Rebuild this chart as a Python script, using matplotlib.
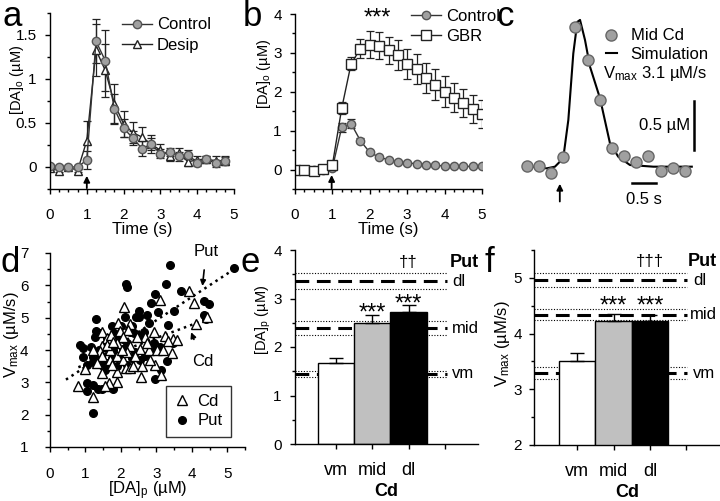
import matplotlib
matplotlib.use('Agg')
import matplotlib.pyplot as plt
from matplotlib.ticker import MultipleLocator
import numpy as np

plt.rcParams['font.family'] = ['Liberation Sans', 'DejaVu Sans']
plt.rcParams['mathtext.default'] = 'regular'
plt.rcParams['font.size'] = 11
plt.rcParams['axes.linewidth'] = 1.0

# ---- panel a: control vs desipramine
t_a = np.arange(20) * 0.25
ctrl_a = [0.01, 0.0, 0.0, 0.0, 0.08, 1.43, 1.21, 0.66, 0.44, 0.33, 0.21, 0.26, 0.15,
          0.17, 0.12, 0.14, 0.05, 0.09, 0.04, 0.07]
ctrl_a_err = [0.02, 0.02, 0.01, 0.02, 0.1, 0.25, 0.35, 0.17, 0.1, 0.08, 0.08, 0.07, 0.05,
              0.05, 0.05, 0.05, 0.04, 0.03, 0.04, 0.04]
desip_a = [-0.01, -0.04, 0.0, -0.04, 0.30, 1.33, 1.10, 0.72, 0.49, 0.39, 0.34, 0.26, 0.19,
           0.13, 0.16, 0.06, 0.08, 0.09, 0.07, 0.07]
desip_a_err = [0.02, 0.02, 0.01, 0.02, 0.22, 0.3, 0.3, 0.22, 0.15, 0.12, 0.12, 0.1, 0.07,
               0.06, 0.06, 0.05, 0.05, 0.04, 0.05, 0.05]

# ---- panel b: control vs GBR
t_b = np.arange(21) * 0.25
ctrl_b = [0.0, 0.0, -0.02, 0.0, 0.04, 1.09, 1.18, 0.74, 0.44, 0.32, 0.25, 0.2, 0.17,
          0.15, 0.13, 0.11, 0.09, 0.08, 0.08, 0.08, 0.08]
ctrl_b_err = [0.02, 0.02, 0.02, 0.02, 0.03, 0.12, 0.12, 0.06, 0.04, 0.03, 0.03, 0.03, 0.03,
              0.02, 0.02, 0.02, 0.02, 0.02, 0.02, 0.02, 0.02]
gbr_b = [0.0, 0.0, -0.03, 0.02, 0.12, 1.58, 2.72, 3.11, 3.21, 3.19, 3.07, 2.95, 2.72,
         2.59, 2.36, 2.18, 2.0, 1.85, 1.71, 1.56, 1.43]
gbr_b_err = [0.02, 0.02, 0.02, 0.02, 0.05, 0.15, 0.17, 0.25, 0.35, 0.35, 0.35, 0.38, 0.38,
             0.38, 0.38, 0.4, 0.4, 0.38, 0.35, 0.35, 0.35]

# ---- panel c: mid Cd record and simulation
t_c = np.arange(14) * 0.25
mid_cd = [0.0, 0.0, -0.074, 0.088, 1.41, 1.076, 0.664, 0.18, 0.10, 0.043, 0.10,
          -0.05, -0.025, -0.054]
sim_t = [0.0, 0.2, 0.41, 0.58, 0.75, 0.855, 0.957, 1.04, 1.095, 1.197, 1.30, 1.505,
         1.71, 1.88, 2.12, 2.6, 3.39]
sim_v = [0.0, -0.013, -0.024, -0.007, 0.078, 0.466, 1.14, 1.46, 1.48, 1.277, 1.006,
         0.686, 0.23, 0.094, 0.01, -0.007, -0.007]

# ---- panel d: Vmax vs [DA]p
put_x = [3.39, 5.18, 2.15, 2.18, 3.27, 2.95, 3.70, 4.33, 4.49, 2.85, 2.51, 3.50, 1.30,
         2.12, 2.42, 2.52, 2.73, 3.06, 4.33, 4.41, 3.34, 2.78, 2.01, 1.74, 1.30, 1.41,
         1.81, 2.26, 2.37, 2.52, 2.66, 1.27, 1.60, 1.93, 0.94, 1.15, 1.55, 0.92, 1.21,
         1.37, 1.79, 2.07, 2.40, 2.97, 3.11, 3.48, 2.92, 1.22, 1.37, 1.49, 1.05, 1.60,
         1.74, 1.98, 2.31, 2.54, 2.68, 3.31, 2.18, 3.13, 2.97, 1.04, 1.21, 1.34, 1.46,
         1.77, 1.04, 1.22, 2.18, 1.69, 1.88, 1.55, 1.98, 2.31, 0.85]
put_y = [6.63, 6.53, 6.04, 5.94, 6.04, 5.74, 5.84, 5.53, 5.43, 5.45, 5.22, 5.22, 4.95,
         5.01, 5.01, 5.01, 5.07, 5.16, 5.07, 4.96, 4.78, 4.85, 4.75, 4.75, 4.60, 4.54,
         4.54, 4.57, 4.52, 4.42, 4.57, 4.40, 4.36, 4.33, 4.05, 4.09, 4.16, 3.78, 3.78,
         4.00, 4.00, 4.02, 3.95, 4.00, 4.10, 4.21, 4.23, 3.64, 3.69, 3.49, 3.54, 3.59,
         3.75, 3.80, 3.75, 3.69, 3.80, 3.67, 3.54, 3.38, 3.09, 2.99, 2.92, 2.79, 2.79,
         2.79, 2.74, 2.06, 4.21, 4.21, 3.49, 3.38, 4.44, 4.73, 4.16]
cd_x = [3.91, 3.11, 4.07, 4.43, 4.12, 2.10, 1.91, 2.26, 1.46, 1.60, 1.72, 1.98, 2.21,
        2.07, 2.92, 2.68, 2.45, 3.25, 3.48, 3.58, 3.34, 1.46, 1.41, 2.26, 2.54, 2.78,
        3.01, 3.20, 3.44, 1.69, 1.88, 2.07, 0.99, 1.46, 1.88, 2.15, 2.26, 2.59, 2.97,
        3.13, 2.56, 1.90, 1.65, 1.55, 0.80, 1.21, 2.17, 1.69, 1.46, 1.88, 2.40, 2.73,
        1.60, 2.02, 1.22, 1.79, 2.35, 2.82, 1.74, 1.32]
cd_y = [5.84, 5.55, 5.45, 5.01, 4.81, 5.32, 4.85, 4.81, 4.57, 4.36, 4.47, 4.60, 4.62,
        4.40, 4.57, 4.40, 4.40, 4.44, 4.35, 4.31, 4.29, 4.11, 3.98, 4.11, 4.04, 4.00,
        4.00, 4.00, 3.92, 4.00, 3.82, 3.69, 3.40, 3.30, 3.33, 3.44, 3.44, 3.51, 3.54,
        3.23, 3.16, 3.02, 2.97, 2.89, 2.89, 2.54, 3.95, 3.69, 3.80, 4.21, 3.80, 4.21,
        4.16, 4.00, 4.00, 4.26, 3.49, 3.69, 3.54, 3.59]
put_fit = (0.72, 2.76)   # slope, intercept
put_fit_range = (0.45, 5.25)
cd_fit = (0.41, 3.14)
cd_fit_range = (0.8, 4.45)

# ---- panels e, f: regional means (Cd bars, Put reference lines)
regions = ['vm', 'mid', 'dl']
dap_cd = [1.66, 2.50, 2.73]
dap_cd_err = [0.11, 0.15, 0.13]
dap_put = [1.45, 2.39, 3.36]
dap_put_err = [0.06, 0.15, 0.16]
vmax_cd = [3.51, 4.22, 4.22]
vmax_cd_err = [0.15, 0.13, 0.12]
vmax_put = [3.29, 4.34, 4.96]
vmax_put_err = [0.11, 0.10, 0.12]

W, H = 720.0, 501.0
fig = plt.figure(figsize=(W / 100, H / 100), dpi=100)


def px_box(x0, y0, x1, y1):
    return [x0 / W, 1 - y1 / H, (x1 - x0) / W, (y1 - y0) / H]


def style(ax, xpad=6.5, ypad=6):
    for s in ['top', 'right']:
        ax.spines[s].set_visible(False)
    ax.tick_params(which='major', direction='out', length=3.5, width=1, labelsize=11)
    ax.tick_params(which='minor', direction='out', length=2.5, width=1)
    ax.tick_params(axis='x', which='major', pad=xpad)
    ax.tick_params(axis='y', which='major', pad=ypad)


def up_arrow(ax, x, y0, y1):
    ax.annotate('', xy=(x, y1), xytext=(x, y0), annotation_clip=False,
                arrowprops=dict(arrowstyle='-|>', color='k', lw=1.3, mutation_scale=9,
                                shrinkA=0, shrinkB=0))


# ================= a
ax = fig.add_axes(px_box(50, 13, 234, 189))
style(ax, xpad=10)
ax.errorbar(t_a, desip_a, yerr=desip_a_err, fmt='none', ecolor='#222', elinewidth=0.9,
            capsize=3, capthick=0.9)
ax.errorbar(t_a, ctrl_a, yerr=ctrl_a_err, fmt='none', ecolor='#222', elinewidth=0.9,
            capsize=3, capthick=0.9)
ax.plot(t_a, desip_a, '-^', color='#222', mfc='white', mec='#222', ms=5.5, lw=1,
        label='Desip')
ax.plot(t_a, ctrl_a, '-o', color='#333', mfc='#a0a0a0', mec='#555', ms=6, lw=1,
        label='Control')
ax.set_xlim(0, 5)
ax.set_ylim(-0.25, 1.75)
ax.set_xticks(range(6))
ax.xaxis.set_minor_locator(MultipleLocator(0.25))
ax.set_yticks([0, 0.5, 1, 1.5])
ax.set_yticklabels(['0', '0.5', '1', '1.5'])
ax.yaxis.set_minor_locator(MultipleLocator(0.25))
ax.set_xlabel('Time (s)', fontsize=12, labelpad=0)
ax.set_ylabel('[DA]$_o$ (µM)', fontsize=10.5)
ax.yaxis.set_label_coords(-0.13, 0.62)
up_arrow(ax, 1, -0.24, -0.1)
h, l = ax.get_legend_handles_labels()
ax.legend(h[::-1], l[::-1], loc='upper left', bbox_to_anchor=(0.39, 0.975), frameon=False,
          fontsize=12, handlelength=1.8, handletextpad=0.3, labelspacing=0.35,
          borderpad=0, borderaxespad=0)

# ================= b
ax = fig.add_axes(px_box(295, 14, 482, 189))
style(ax, xpad=10)
ax.errorbar(t_b, gbr_b, yerr=gbr_b_err, fmt='none', ecolor='#222', elinewidth=0.9,
            capsize=3, capthick=0.9)
ax.errorbar(t_b, ctrl_b, yerr=ctrl_b_err, fmt='none', ecolor='#222', elinewidth=0.9,
            capsize=3, capthick=0.9)
ax.plot(t_b, ctrl_b, '-o', color='#333', mfc='#a0a0a0', mec='#555', ms=6, lw=1,
        label='Control')
ax.plot(t_b, gbr_b, '-s', color='#222', mfc='white', mec='#222', ms=6.5, lw=1,
        label='GBR')
ax.set_xlim(0, 5)
ax.set_ylim(-0.5, 4)
ax.set_xticks(range(6))
ax.xaxis.set_minor_locator(MultipleLocator(0.25))
ax.set_yticks(range(5))
ax.yaxis.set_minor_locator(MultipleLocator(0.5))
ax.set_xlabel('Time (s)', fontsize=12, labelpad=0)
ax.set_ylabel('[DA]$_o$ (µM)', fontsize=10.5)
ax.yaxis.set_label_coords(-0.12, 0.66)
up_arrow(ax, 0.98, -0.48, -0.14)
ax.text(2.2, 3.6, '***', fontsize=17, ha='center', va='bottom')
ax.legend(loc='upper left', bbox_to_anchor=(0.62, 1.03), frameon=False, fontsize=12,
          handlelength=1.8, handletextpad=0.3, labelspacing=0.3, borderpad=0,
          borderaxespad=0)

# ================= c
ax = fig.add_axes(px_box(500, 0, 720, 210))
ax.set_xlim(-0.548, 3.969)
ax.set_ylim(-0.446, 1.682)
ax.axis('off')
ax.plot(sim_t, sim_v, '-', color='k', lw=1.5, label='Simulation', zorder=2)
ax.plot(t_c, mid_cd, 'o', mfc='#a0a0a0', mec='#666', ms=8, label='Mid Cd', zorder=3)
h, l = ax.get_legend_handles_labels()
ax.legend(h[::-1], l[::-1], loc='upper left', bbox_to_anchor=(0.48, 0.865), frameon=False,
          fontsize=12, handlelength=0.7, handletextpad=0.8, labelspacing=0.2,
          borderpad=0, borderaxespad=0)
ax.text(1.57, 0.94, 'V$_{max}$ 3.1 µM/s', fontsize=12, ha='left', va='center')
ax.plot([3.435, 3.435], [0.162, 0.162 + 0.5], color='k', lw=1.8)
ax.text(3.35, 0.41, '0.5 µM', fontsize=12, ha='right', va='center')
ax.plot([2.156, 2.156 + 0.5], [-0.169, -0.169], color='k', lw=1.8)
ax.text(2.4, -0.26, '0.5 s', fontsize=12, ha='center', va='top')
up_arrow(ax, 0.68, -0.36, -0.18)

# ================= d
ax = fig.add_axes(px_box(50, 253, 245, 447))
style(ax, xpad=11, ypad=12)
ax.plot(put_fit_range, [put_fit[0] * x + put_fit[1] for x in put_fit_range], ':',
        color='k', lw=1.8, zorder=1)
ax.plot(cd_fit_range, [cd_fit[0] * x + cd_fit[1] for x in cd_fit_range], ':',
        color='k', lw=1.8, zorder=1)
ax.plot(put_x, put_y, 'o', mfc='k', mec='k', ms=5.5, label='Put', zorder=2)
ax.plot(cd_x, cd_y, '^', mfc='white', mec='k', mew=1, ms=7, label='Cd', zorder=3)
ax.set_xlim(0, 5.5)
ax.set_ylim(1, 7)
ax.set_xticks(range(6))
ax.xaxis.set_minor_locator(MultipleLocator(0.5))
ax.set_yticks(range(1, 8))
ax.yaxis.set_minor_locator(MultipleLocator(0.5))
ax.set_xlabel('[DA]$_p$ (µM)', fontsize=12, labelpad=-1)
ax.set_ylabel('V$_{max}$ (µM/s)', fontsize=12)
ax.yaxis.set_label_coords(-0.15, 0.58)
h, l = ax.get_legend_handles_labels()
leg = ax.legend(h[::-1], l[::-1], loc='lower left', bbox_to_anchor=(0.594, 0.053),
                frameon=True, fancybox=False, edgecolor='k', fontsize=12,
                handlelength=1.0, handletextpad=0.4, labelspacing=0.25, borderpad=0.5,
                borderaxespad=0)
leg.get_frame().set_linewidth(1.0)
ax.annotate('Put', xy=(4.3, 5.98), xytext=(4.05, 7.05), fontsize=12, ha='left',
            va='center', annotation_clip=False,
            arrowprops=dict(arrowstyle='-|>', color='k', lw=1.2, mutation_scale=8,
                            shrinkA=6, shrinkB=0))
ax.annotate('Cd', xy=(3.98, 4.55), xytext=(4.3, 3.65), fontsize=12, ha='center',
            va='center',
            arrowprops=dict(arrowstyle='-|>', color='k', lw=1.2, mutation_scale=8,
                            shrinkA=9, shrinkB=0))


# ================= e, f
def region_panel(box, cd, cd_err, put, put_err, ylim, xlim, xmax_frac, ylabel, ylab_size,
                 ylab_y, dagger, star_y, put_y, lab_x, put_x0, ypad):
    ax = fig.add_axes(px_box(*box))
    style(ax, xpad=9.5, ypad=ypad)
    pos = np.arange(1, 4)
    for v, e in zip(put, put_err):
        ax.axhline(v, xmin=0, xmax=xmax_frac, color='k', lw=2.2, ls=(0, (4.5, 2.5)),
                   zorder=1)
        ax.axhline(v + e, xmin=0, xmax=xmax_frac, color='k', lw=0.8, ls=(0, (1, 1.5)),
                   zorder=1)
        ax.axhline(v - e, xmin=0, xmax=xmax_frac, color='k', lw=0.8, ls=(0, (1, 1.5)),
                   zorder=1)
    ax.bar(pos, cd, width=1.0, bottom=0, color=['white', '#c0c0c0', 'black'],
           edgecolor='k', lw=1, zorder=2,
           yerr=[np.zeros(3), cd_err], capsize=5,
           error_kw=dict(ecolor='k', elinewidth=1, capthick=1, zorder=3))
    ax.set_xlim(*xlim)
    ax.set_ylim(*ylim)
    ax.set_xticks([1, 2, 3, 4])
    ax.set_xticklabels(regions + [''], fontsize=13)
    ax.yaxis.set_major_locator(MultipleLocator(1))
    ax.yaxis.set_minor_locator(MultipleLocator(0.5))
    ax.set_xlabel('Cd', fontsize=13, fontweight='bold', labelpad=2.5)
    ax.set_ylabel(ylabel, fontsize=ylab_size)
    ax.yaxis.set_label_coords(-0.12, ylab_y)
    for lab, v, x in zip(regions, put, lab_x):
        ax.text(x, v, lab, fontsize=12, ha='left', va='center')
    ax.text(put_x0, put_y, 'Put', fontsize=13, fontweight='bold', ha='left', va='center')
    ax.text(3.0, put_y, dagger, fontsize=12, ha='center', va='center')
    for p, s in zip((2, 3), star_y):
        ax.text(p, s, '***', fontsize=17, ha='center', va='center')
    return ax


region_panel((295, 250, 478, 444), dap_cd, dap_cd_err, dap_put, dap_put_err,
             (0, 4), (-0.13, 4.91), 0.83, '[DA]$_p$ (µM)', 10.5, 0.64, '††',
             [2.68, 2.88], 3.75, [4.2, 4.2, 4.2], 4.14, 6)
region_panel((534, 250, 720, 445), vmax_cd, vmax_cd_err, vmax_put, vmax_put_err,
             (2, 5.5), (-0.18, 4.92), 0.82, 'V$_{max}$ (µM/s)', 12, 0.52, '†††',
             [4.48, 4.48], 5.29, [4.18, 4.1, 4.18], 4.04, 5)

# panel letters
for lab, x, y in [('a', 2, 0), ('b', 243, 0), ('c', 497, 0), ('d', 0, 246),
                  ('e', 240, 246), ('f', 484, 246)]:
    fig.text(x / W, 1 - y / H, lab, fontsize=25, ha='left', va='top')

fig.savefig('out.png', dpi=100)
